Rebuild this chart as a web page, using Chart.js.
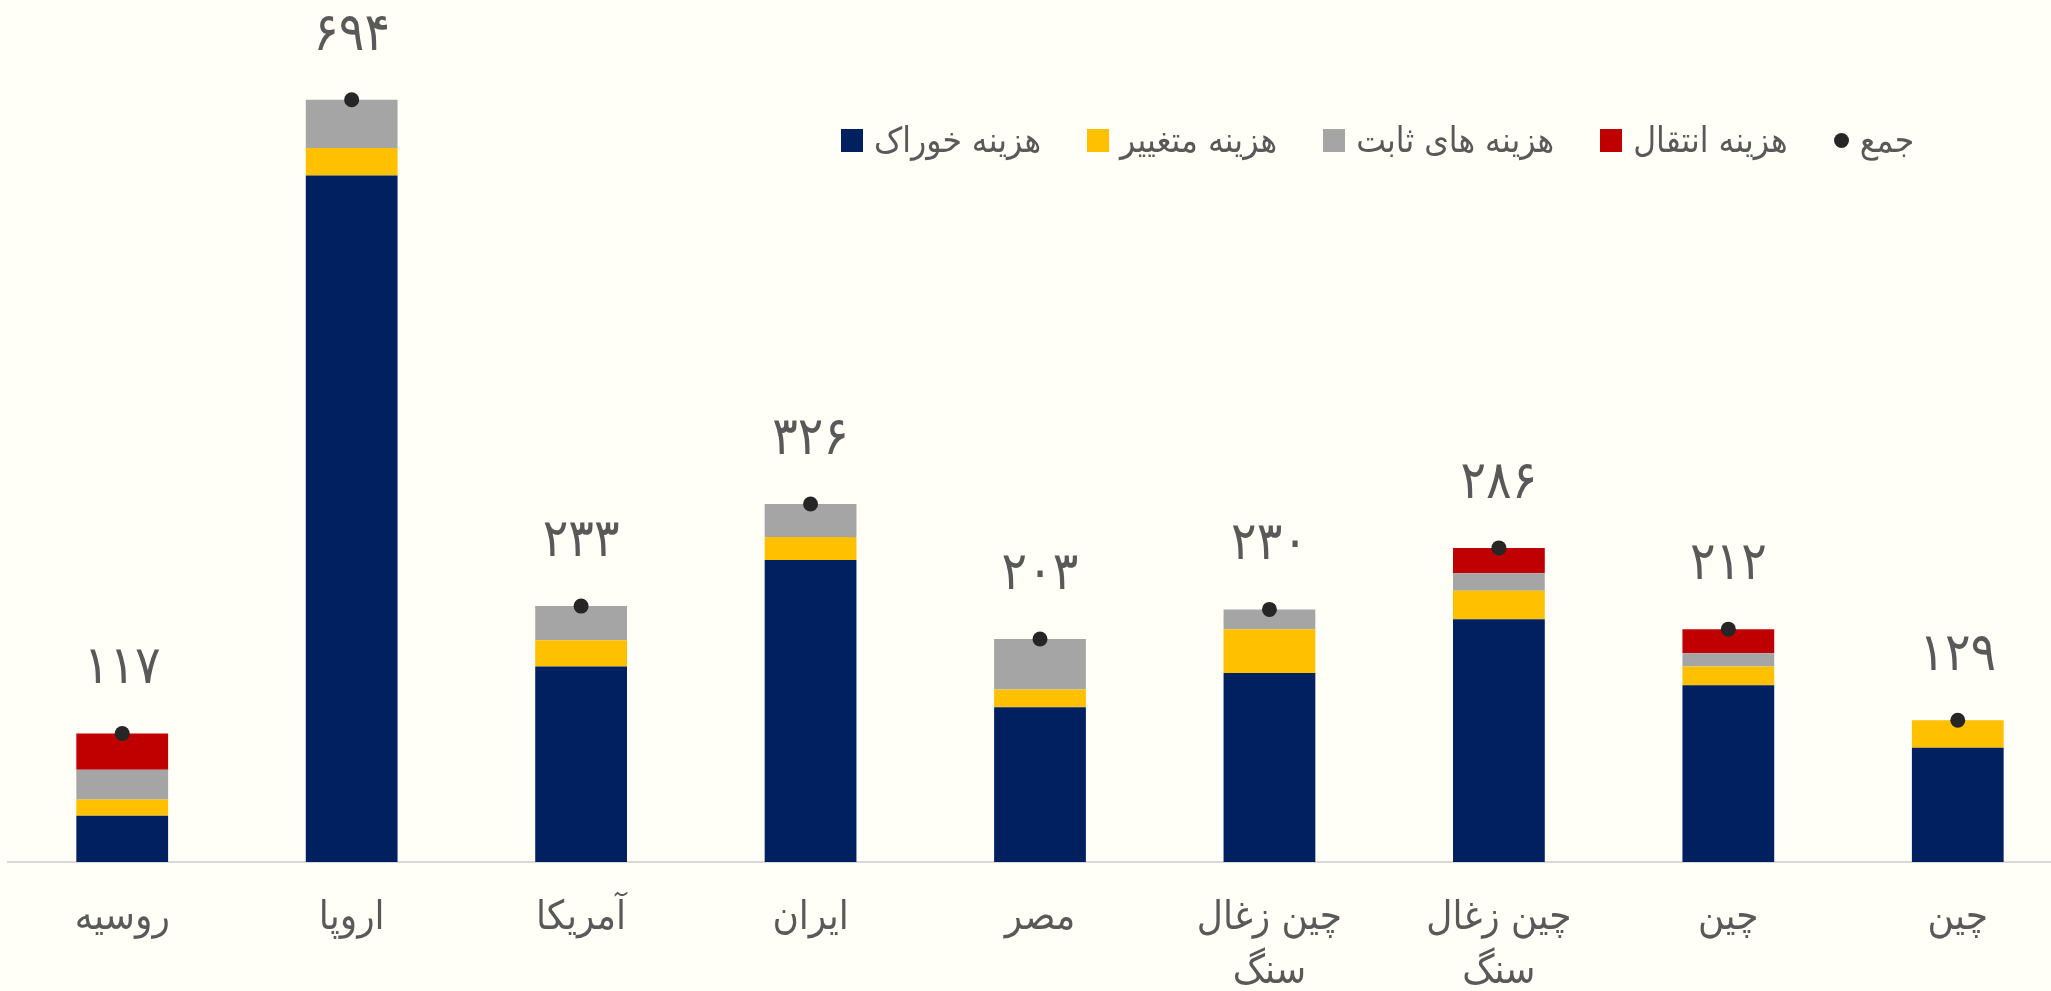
<!DOCTYPE html>
<html lang="fa">
<head>
<meta charset="utf-8">
<script src="https://cdn.jsdelivr.net/npm/chart.js@4"></script>
<style>
    html, body { margin: 0; padding: 0; background: #fffff7; overflow: hidden; }
    #wrap { position: relative; width: 2080px; height: 991px; }
    #legend {
        position: absolute; left: 841px; top: 120px;
        display: flex; align-items: center; gap: 46px;
        font-family: "DejaVu Sans Condensed", "DejaVu Sans", sans-serif;
        font-size: 35px; color: #595959;
    }
    .item { display: flex; align-items: center; gap: 11px; }
    .item span { direction: rtl; }
    .box { width: 22px; height: 23px; }
    .dot { width: 15px; height: 15px; border-radius: 50%; }
</style>
</head>
<body>
<div id="wrap">
    <canvas id="costChart"></canvas>
    <div id="legend"></div>
</div>
<script>
const categories = ['روسیه', 'اروپا', 'آمریکا', 'ایران', 'مصر', ['چین زغال', 'سنگ'], ['چین زغال', 'سنگ'], 'چین', 'چین'];

// هزینه ها به تفکیک (از پایین به بالا)
const feedCost     = [42, 625, 178, 275, 141, 172, 221, 161, 104];
const variableCost = [15, 25, 24, 21, 16, 40, 26, 17, 25];
const fixedCost    = [27, 44, 31, 30, 46, 18, 16, 12, 0];
const transferCost = [33, 0, 0, 0, 0, 0, 23, 22, 0];
const totals       = [117, 694, 233, 326, 203, 230, 286, 212, 129];

const labelColor = '#595959';
const fontFamily = '"DejaVu Sans Condensed", "DejaVu Sans", sans-serif';

const toPersian = n => String(n).replace(/\d/g, d => '۰۱۲۳۴۵۶۷۸۹'[d]);

// برچسب جمع بالای هر ستون
const totalLabels = {
    id: 'totalLabels',
    afterDatasetsDraw(chart) {
        const ctx = chart.ctx;
        const meta = chart.getDatasetMeta(4);
        ctx.save();
        ctx.font = '53px ' + fontFamily;
        ctx.fillStyle = labelColor;
        ctx.textAlign = 'center';
        ctx.textBaseline = 'middle';
        meta.data.forEach((pt, i) => {
            ctx.fillText(toPersian(totals[i]), pt.x, pt.y - 64);
        });
        ctx.restore();
    }
};

const barDs = (label, data, color) => ({
    type: 'bar', label, data, backgroundColor: color, stack: 'cost', order: 1,
    barPercentage: 0.4, categoryPercentage: 1.0, borderWidth: 0
});

const datasets = [
    barDs('هزینه خوراک', feedCost, '#002060'),
    barDs('هزینه متغییر', variableCost, '#ffc000'),
    barDs('هزینه های ثابت', fixedCost, '#a5a5a5'),
    barDs('هزینه انتقال', transferCost, '#c00000'),
    {
        type: 'line', label: 'جمع', data: totals, stack: 'total', order: 0,
        showLine: false, pointRadius: 7.5, pointBackgroundColor: '#262626',
        pointBorderWidth: 0, pointStyle: 'circle'
    }
];

new Chart(document.getElementById('costChart'), {
    data: { labels: categories, datasets },
    options: {
        responsive: true,
        maintainAspectRatio: false,
        animation: false,
        layout: { padding: { left: 7, right: 7, top: 0, bottom: 0 } },
        plugins: { legend: { display: false }, tooltip: { enabled: false } },
        scales: {
            x: {
                stacked: true,
                grid: { display: false, drawTicks: false },
                border: { display: true, color: '#d9d9d9', width: 2 },
                ticks: {
                    color: labelColor, padding: 30, maxRotation: 0, autoSkip: false,
                    font: { family: fontFamily, size: 40, lineHeight: 1.35 }
                },
                afterFit: s => { s.height = 129; }
            },
            y: { stacked: true, display: false, min: 0, max: 778 }
        }
    },
    plugins: [totalLabels]
});

// راهنما
const legend = document.getElementById('legend');
datasets.forEach(ds => {
    const item = document.createElement('div');
    item.className = 'item';
    const mark = document.createElement('div');
    mark.className = ds.type === 'line' ? 'dot' : 'box';
    mark.style.background = ds.type === 'line' ? ds.pointBackgroundColor : ds.backgroundColor;
    const txt = document.createElement('span');
    txt.textContent = ds.label;
    item.append(mark, txt);
    legend.appendChild(item);
});
</script>
</body>
</html>
